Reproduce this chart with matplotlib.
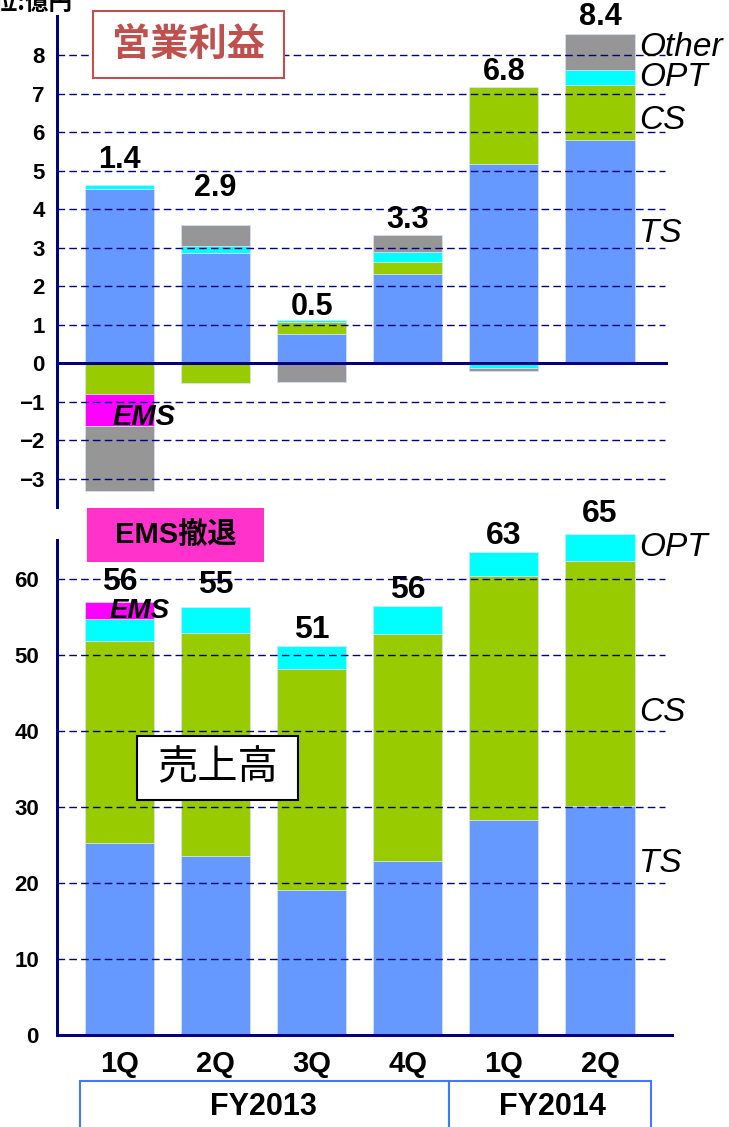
import matplotlib
matplotlib.use("Agg")
import matplotlib.pyplot as plt
from matplotlib.patches import Rectangle
import matplotlib.transforms as mtransforms
import numpy as np

# ---------------- data ----------------
quarters = ['1Q', '2Q', '3Q', '4Q', '1Q', '2Q']
fiscal_years = ['FY2013', 'FY2014']
fy_quarter_count = [4, 2]

# operating profit (億円), by segment
op_ts = [4.53, 2.85, 0.75, 2.31, 5.17, 5.80]
op_cs = [-0.80, -0.53, 0.32, 0.33, 2.01, 1.42]
op_opt = [0.11, 0.18, 0.04, 0.24, -0.12, 0.40]
op_ems = [-0.84, 0.0, 0.0, 0.0, 0.0, 0.0]
op_other = [-1.68, 0.55, -0.50, 0.46, -0.09, 0.92]
op_total_labels = ['1.4', '2.9', '0.5', '3.3', '6.8', '8.4']

# sales (億円), by segment
sales_ts = [25.2, 23.5, 19.1, 22.9, 28.3, 30.1]
sales_cs = [26.7, 29.4, 29.1, 29.9, 32.1, 32.3]
sales_opt = [2.9, 3.4, 3.0, 3.7, 3.1, 3.5]
sales_ems = [2.2, 0.0, 0.0, 0.0, 0.0, 0.0]
sales_total_labels = ['56', '55', '51', '56', '63', '65']

op_ticks = [-3, -2, -1, 0, 1, 2, 3, 4, 5, 6, 7, 8]
sales_ticks = [0, 10, 20, 30, 40, 50, 60]

# ---------------- style ----------------
C_TS = '#6699FF'
C_CS = '#99CC00'
C_OPT = '#00FFFF'
C_OTHER = '#969696'
C_EMS = '#FF00FF'
NAVY = '#000080'
LAT = 'Liberation Sans'
CJK = 'Noto Sans CJK JP'

W, H = 729, 1127
fig = plt.figure(figsize=(W / 100, H / 100), dpi=100)


def rect(x0, y0, x1, y1):
    """pixel box (top-left origin) -> figure fraction rect"""
    return [x0 / W, 1 - y1 / H, (x1 - x0) / W, (y1 - y0) / H]


def fx(px):
    return px / W


def fy(py):
    return 1 - py / H


PT = 0.72  # points per pixel at dpi 100

xl = (-0.650, 5.708)
x = np.arange(len(quarters))
bw = 0.72

# ---------------- top: operating profit ----------------
ax1 = fig.add_axes(rect(57, 16, 668, 507))
ax1.set_xlim(*xl)
ax1.set_ylim(-3.74, 9.02)

series_op = [(op_ts, C_TS), (op_cs, C_CS), (op_opt, C_OPT), (op_ems, C_EMS), (op_other, C_OTHER)]
pos = np.zeros(len(x))
neg = np.zeros(len(x))
for vals, col in series_op:
    v = np.array(vals)
    bottoms = np.where(v >= 0, pos, neg)
    ax1.bar(x, v, bw, bottom=bottoms, color=col, edgecolor='#D8E2FF', linewidth=0.5, zorder=1)
    pos = pos + np.where(v > 0, v, 0)
    neg = neg + np.where(v < 0, v, 0)

op_label_pad = [25, 37, 13, 15, 15, 17]
for i in range(len(x)):
    ax1.annotate(op_total_labels[i], (x[i], pos[i]), xytext=(0, op_label_pad[i]),
                 textcoords='offset pixels', ha='center', va='center',
                 fontsize=22, fontweight='bold', family=LAT, zorder=5)

ax1.set_yticks(op_ticks)
ax1.set_yticklabels([f'{t}'.replace('-', '\u2212') for t in op_ticks])
ax1.set_xticks([])
ax1.tick_params(axis='y', length=0, pad=9)
for lab in ax1.get_yticklabels():
    lab.set_fontsize(16)
    lab.set_fontweight('bold')
    lab.set_family(LAT)
for s in ['top', 'right', 'bottom']:
    ax1.spines[s].set_visible(False)
ax1.spines['left'].set_color(NAVY)
ax1.spines['left'].set_linewidth(3 * PT)
grid_end = (665 - 119.5) / 96.1
for t in op_ticks:
    if t != 0:
        ax1.hlines(t, xl[0], grid_end, colors=NAVY, linewidth=1.0,
                   linestyles=(0, (5.5, 3)), zorder=2)
ax1.axhline(0, color=NAVY, linewidth=3 * PT, zorder=3)

# right-side segment labels (top)
xr = (639 - 119.5) / 96.1
for txt, yv in [('Other', 8.21), ('OPT', 7.41), ('CS', 6.31), ('TS', 3.38)]:
    ax1.text(xr, yv, txt, ha='left', va='center', fontsize=24, fontstyle='italic',
             family=LAT, zorder=5, clip_on=False)
ax1.text(0.25, -1.40, 'EMS', ha='center', va='center', fontsize=21, fontstyle='italic',
         fontweight='bold', family=LAT, zorder=5)

# ---------------- bottom: sales ----------------
ax2 = fig.add_axes(rect(57, 540, 672, 1035))
ax2.set_xlim(-0.650, (672 - 119.5) / 96.1)
ax2.set_ylim(0, (1035 - 540) / 7.6)

base = np.zeros(len(x))
for vals, col in [(sales_ts, C_TS), (sales_cs, C_CS), (sales_opt, C_OPT), (sales_ems, C_EMS)]:
    v = np.array(vals)
    ax2.bar(x, v, bw, bottom=base, color=col, edgecolor='#D8E2FF', linewidth=0.5,
            zorder=1, clip_on=False)
    base = base + v

sales_label_pad = [20, 22, 16, 16, 16, 20]
for i in range(len(x)):
    ax2.annotate(sales_total_labels[i], (x[i], base[i]), xytext=(0, sales_label_pad[i]),
                 textcoords='offset pixels', ha='center', va='center',
                 fontsize=23, fontweight='bold', family=LAT, zorder=5, annotation_clip=False)

ax2.set_yticks(sales_ticks)
ax2.set_xticks(x)
ax2.set_xticklabels(quarters)
ax2.tick_params(axis='y', length=0, pad=13)
ax2.tick_params(axis='x', length=0, pad=11)
for lab in ax2.get_yticklabels():
    lab.set_fontsize(16)
    lab.set_fontweight('bold')
    lab.set_family(LAT)
for lab in ax2.get_xticklabels():
    lab.set_fontsize(21)
    lab.set_fontweight('bold')
    lab.set_family(LAT)
for s in ['top', 'right']:
    ax2.spines[s].set_visible(False)
for s in ['left', 'bottom']:
    ax2.spines[s].set_color(NAVY)
    ax2.spines[s].set_linewidth(3 * PT)
for t in sales_ticks[1:]:
    ax2.hlines(t, -0.650, grid_end, colors=NAVY, linewidth=1.0,
               linestyles=(0, (5.5, 3)), zorder=2)

for txt, yv in [('OPT', 64.1), ('CS', 42.4), ('TS', 22.5)]:
    ax2.text(xr, yv, txt, ha='left', va='center', fontsize=24, fontstyle='italic',
             family=LAT, zorder=5, clip_on=False)
ax2.text(0.21, 55.8, 'EMS', ha='center', va='center', fontsize=20, fontstyle='italic',
         fontweight='bold', family=LAT, zorder=5, clip_on=False)

# fiscal-year boxes below the quarters
trans = mtransforms.blended_transform_factory(ax2.transData, fig.transFigure)
edges = [-0.41, 3.43, 5.53]
for k, fy_name in enumerate(fiscal_years):
    x0, x1 = edges[k], edges[k + 1]
    fig.add_artist(Rectangle((x0, fy(1140)), x1 - x0, fy(1081) - fy(1140), transform=trans,
                             fill=False, edgecolor='#4477FF', linewidth=1.5, clip_on=False))
    start = sum(fy_quarter_count[:k])
    cx = start + (fy_quarter_count[k] - 1) / 2
    t = fig.text(0, fy(1107), fy_name, transform=trans, ha='center', va='center',
                 fontsize=22, fontweight='bold', family=LAT)
    t.set_x(cx)

# ---------------- annotation boxes ----------------
fig.add_artist(Rectangle((fx(93), fy(78)), fx(284) - fx(93), fy(11) - fy(78),
                         transform=fig.transFigure, facecolor='white',
                         edgecolor='#C0504D', linewidth=1.5, zorder=4))
fig.text(fx(188.5), fy(45), '営業利益', ha='center', va='center', fontsize=27.5,
         color='#C0504D', family=CJK, fontweight='bold', zorder=5)

fig.add_artist(Rectangle((fx(87), fy(562)), fx(264) - fx(87), fy(508) - fy(562),
                         transform=fig.transFigure, facecolor='#FF33CC',
                         edgecolor='none', zorder=4))
fig.text(fx(175.5), fy(535), 'EMS撤退', ha='center', va='center', fontsize=21,
         fontweight='bold', family=[LAT, CJK], zorder=5)

fig.add_artist(Rectangle((fx(137), fy(800)), fx(298) - fx(137), fy(736) - fy(800),
                         transform=fig.transFigure, facecolor='white',
                         edgecolor='black', linewidth=1.5, zorder=4))
fig.text(fx(217.5), fy(768), '売上高', ha='center', va='center', fontsize=29,
         family=CJK, zorder=5)

fig.text(fx(73), fy(3), '単位:億円', ha='right', va='center', fontsize=17,
         fontweight='bold', family=CJK)

fig.savefig('out.png', dpi=100)
